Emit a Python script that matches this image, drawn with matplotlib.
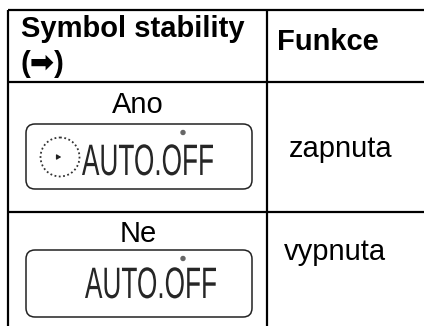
import matplotlib
matplotlib.use("Agg")
import matplotlib.pyplot as plt
from matplotlib.patches import FancyBboxPatch, Circle, PathPatch
from matplotlib.textpath import TextPath
from matplotlib.font_manager import FontProperties
from matplotlib.transforms import Affine2D

# ---- table content ----
header_left = ["Symbol stability", "(\u27A1)"]
header_right = "Funkce"
row_labels = ["Ano", "Ne"]
row_functions = ["zapnuta", "vypnuta"]
display_text = "AUTO.OFF"
show_symbol = [True, False]

W, H = 424, 326
fig = plt.figure(figsize=(W / 100, H / 100), dpi=100)
ax = fig.add_axes([0, 0, 1, 1])
ax.set_xlim(0, W)
ax.set_ylim(H, 0)
ax.axis("off")

fam = ["Liberation Sans", "DejaVu Sans"]
lw = 1.6
x0, xm, x1 = 8, 267, 424
y0, y1, y2, y3 = 10, 82, 212, 326
for yy in (y0, y1, y2):
    ax.plot([x0, x1], [yy, yy], color="black", lw=lw, solid_capstyle="butt")
for xx in (x0, xm):
    ax.plot([xx, xx], [y0, y3], color="black", lw=lw, solid_capstyle="butt")

fs = 21
ax.text(21, 37, header_left[0], family=fam, fontsize=fs, fontweight="bold",
        ha="left", va="baseline")
ax.text(21, 72, header_left[1], family=fam, fontsize=fs, fontweight="bold",
        ha="left", va="baseline")
ax.text(277, 50, header_right, family=fam, fontsize=fs, fontweight="bold",
        ha="left", va="baseline")

row_tops = [y1, y2]
label_base = [31, 30]
func_base = [75, 48]
func_x = [341, 335]
box_off = [42, 38]
box_h = [65, 67]
text_base = [51, 48]
fp = FontProperties(family="Liberation Sans")
for i in range(2):
    top = row_tops[i]
    ax.text(138, top + label_base[i], row_labels[i], family=fam, fontsize=fs,
            ha="center", va="baseline")
    ax.text(func_x[i], top + func_base[i], row_functions[i], family=fam,
            fontsize=fs, ha="center", va="baseline")
    by = top + box_off[i]
    box = FancyBboxPatch((26, by), 226, box_h[i],
                         boxstyle="round,pad=0,rounding_size=9",
                         fill=False, edgecolor="#222222", lw=1.1)
    ax.add_patch(box)
    ax.add_patch(Circle((183, by + 8.5), 2.0, color="#666666"))
    tp = TextPath((0, 0), display_text, size=44, prop=fp)
    ext = tp.get_extents()
    sx = 131 / ext.width
    tx = 82 if show_symbol[i] else 85
    tr = Affine2D().translate(-ext.x0, 0).scale(sx, -1).translate(tx, by + text_base[i])
    ax.add_patch(PathPatch(tr.transform_path(tp), facecolor="#262626",
                           edgecolor="none"))
    if show_symbol[i]:
        ax.add_patch(Circle((60, by + 33), 19.5, fill=False, edgecolor="#333333",
                            lw=1.3, linestyle=(0, (1, 1.4))))
        ax.annotate("", xy=(64, by + 33), xytext=(56, by + 33),
                    arrowprops=dict(arrowstyle="-|>,head_length=0.25,head_width=0.15",
                                    color="#222222", lw=0.9))

fig.savefig("out.png", dpi=100)
